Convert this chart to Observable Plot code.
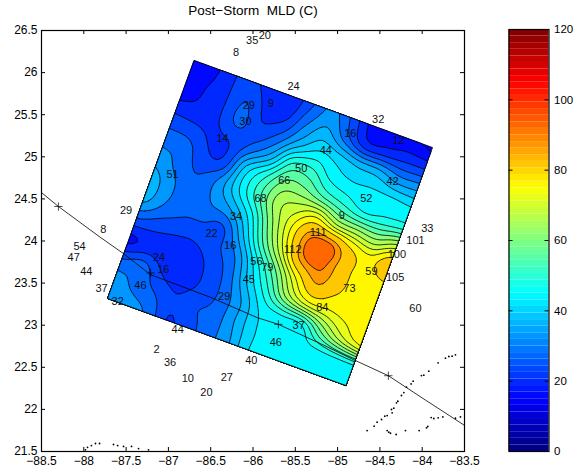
<!DOCTYPE html>
<html><head><meta charset="utf-8">
<script src="https://cdn.jsdelivr.net/npm/d3@7"></script>
<script src="https://cdn.jsdelivr.net/npm/@observablehq/plot@0.6"></script>
<style>html,body{margin:0;padding:0;background:#fff}#wrap{position:relative;width:582px;height:476px}#wrap svg{position:absolute;top:0}</style>
</head><body><div id="wrap"></div>
<script>
const r0 = [16.5,18.5,23.5,25,21.5,21,27.5,33,27,18.5,17.5,17,15];
const r1 = [17,20,23.5,28,23,23,31.5,37,30,22,22,23,23];
const r2 = [20,21,23.7,29,25,29,38,44,42,39,38,34,34];
const r3 = [26,25,23.5,24.5,30,38,52,53,47,45,45,45,44];
const r4 = [30.5,30,24.7,25.5,41,51,61,61,56,52,48,49,50];
const r5 = [34.5,31,28,32.5,43,54,66,71,76,68,66,64,70];
const r6 = [38,33,28.7,32,36,46,62,76,91.5,93,83,78,87];
const r7 = [37,31.5,28.5,28.2,27.5,39.5,56,72,91,93,84,78,79];
const r8 = [27.5,25.5,24.3,24.3,27,32.5,46,60,76,87.5,82,78,77];
const r9 = [19,21.5,21.5,21.5,25,30,41,52,66,74,75,77,77];
const r10 = [28,30,24,22.5,24.8,29,36,45,47,48,60,70,76];
const r11 = [34,31,28,24.5,27.5,29.5,36,43.5,46,46,46.5,47,47.5];
const r12 = [34.5,34,31,23.8,26.5,30.2,35,43.5,46.5,46.5,46,46,46];
const rows = [r0,r1,r2,r3,r4,r5,r6,r7,r8,r9,r10,r11,r12];
const levels = [12,16,20,24,28,32,36,40,44,48,52,56,60,64,68,72,76,81,88,92];
const corner = [-86.697,26.144], cornerU = [-83.878,25.11], cornerV = [-87.72,23.317];

const trackLon = [-88.5,-88.30,-87.80,-87.53,-87.21,-86.50,-85.95,-85.70,-85.20,-84.81,-84.40,-83.96,-83.5];
const trackLat = [24.575,24.41,24.04,23.85,23.60,23.33,23.09,23.01,22.78,22.59,22.40,22.11,21.81];
const plusLon = [-88.30,-87.21,-85.70,-84.40];
const plusLat = [24.41,23.62,23.01,22.40];

const coastLon = [-83.607,-83.646,-83.685,-83.725,-83.812,-83.922,-83.981,-84.009,-84.107,-84.131,-84.186,-84.217,-84.245,-84.288,-84.304,-84.336,-84.363,-84.355,-84.414,-84.442,-84.481,-84.533,-84.568,-84.651,-84.414,-84.395,-84.375,-84.308,-84.198,-84.036,-83.949,-83.934,-83.894,-83.863,-83.811,-83.756,-83.607,-83.548,-87.98,-87.956,-87.91,-87.862,-87.814,-87.649,-87.60,-87.53,-87.436,-87.353,-87.235];
const coastLat = [22.648,22.632,22.628,22.608,22.553,22.454,22.406,22.402,22.335,22.303,22.264,22.200,22.165,22.097,22.078,22.014,21.999,21.959,21.927,21.919,21.880,21.848,21.801,21.749,21.749,21.729,21.717,21.702,21.749,21.749,21.781,21.797,21.903,21.892,21.900,21.911,21.896,21.911,21.52,21.55,21.57,21.595,21.595,21.583,21.57,21.56,21.56,21.535,21.52];

const stationText = ["35","20","8","24","9","29","30","14","32","16","12","44","50","51","66","42","52","68","9","34","29","8","33","101","111","112","22","16","54","47","44","100","59","105","24","16","56","79","45","37","46","32","29","73","84","60","37","44","46","2","36","40","10","27","20"];
const stationLon = [-86.01,-85.86,-86.20,-85.52,-85.79,-86.05,-86.09,-86.36,-84.52,-84.85,-84.28,-85.14,-85.43,-86.95,-85.63,-84.35,-84.66,-85.91,-84.95,-86.20,-87.50,-87.77,-83.94,-84.08,-85.23,-85.53,-86.49,-86.27,-88.05,-88.12,-87.97,-84.30,-84.60,-84.32,-87.11,-87.06,-85.96,-85.83,-86.05,-87.79,-87.33,-87.60,-86.34,-84.86,-85.18,-84.08,-85.46,-86.89,-85.73,-87.14,-86.98,-86.02,-86.77,-86.31,-86.55];
const stationLat = [26.38,26.44,26.24,25.83,25.63,25.61,25.42,25.22,25.44,25.28,25.19,25.07,24.86,24.79,24.72,24.71,24.50,24.50,24.30,24.29,24.36,24.14,24.15,24.01,24.10,23.90,24.09,23.95,23.93,23.80,23.64,23.84,23.64,23.57,23.81,23.66,23.76,23.69,23.54,23.44,23.47,23.28,23.34,23.44,23.21,23.20,23.00,22.95,22.80,22.71,22.56,22.58,22.37,22.38,22.20];

const xTicks = [-88.5,-88,-87.5,-87,-86.5,-86,-85.5,-85,-84.5,-84,-83.5];
const yTicks = [21.5,22,22.5,23,23.5,24,24.5,25,25.5,26,26.5];
const barTicks = [0,20,40,60,80,100,120];
const font = "Liberation Sans, Arial, sans-serif";

// MATLAB jet with 64 steps
const clamp01 = v => Math.max(0, Math.min(1, v));
const jet = d3.range(64).map(i => {
  const x = (i + .5) / 64;
  const r = clamp01(Math.min(4*x-1.5, -4*x+4.5)), g = clamp01(Math.min(4*x-.5, -4*x+3.5)), b = clamp01(Math.min(4*x+.5, -4*x+2.5));
  return d3.rgb(r*255, g*255, b*255).formatHex();
});
const colorScale = {type:"threshold", domain:d3.range(1,64).map(i => i*120/64), range:jet};

// contour the read grid on a finer mesh (Catmull-Rom), mapped to the rotated survey box
const n = rows.length, k = 6, m = (n-1)*k+1;
const cr = (a,b,c,d,t) => b + .5*t*(c-a + t*(2*a-5*b+4*c-d + t*(3*(b-c)+d-a)));
const at = (i,j) => rows[Math.max(0,Math.min(n-1,j))][Math.max(0,Math.min(n-1,i))];
const mesh = new Float64Array(m*m);
for (let y=0;y<m;y++) for (let x=0;x<m;x++) {
  const fx=x/k, fy=y/k, ix=Math.min(n-2,Math.floor(fx)), iy=Math.min(n-2,Math.floor(fy)), tx=fx-ix, ty=fy-iy;
  const col = [-1,0,1,2].map(d => cr(at(ix-1,iy+d),at(ix,iy+d),at(ix+1,iy+d),at(ix+2,iy+d),tx));
  mesh[y*m+x] = Math.max(levels[0], cr(col[0],col[1],col[2],col[3],ty));
}
const toGeo = ([px,py]) => {
  const u = Math.max(0,Math.min(m-1,px-.5))/(m-1), v = Math.max(0,Math.min(m-1,py-.5))/(m-1);
  return {lon: corner[0]+u*(cornerU[0]-corner[0])+v*(cornerV[0]-corner[0]),
          lat: corner[1]+u*(cornerU[1]-corner[1])+v*(cornerV[1]-corner[1])};
};
const contourPts = [];
for (const c of d3.contours().size([m,m]).thresholds(levels)(mesh)) {
  for (const poly of c.coordinates) for (const ring of poly) {
    for (const p of ring) contourPts.push({...toGeo(p), level:c.value});
    contourPts.push({lon:NaN, lat:NaN, level:c.value});
  }
}

const ml=41, mr=118, mt=30, mb=25, W=582, H=476, fw=W-ml-mr, fh=H-mt-mb, tl=4;
const main = Plot.plot({
  width:W, height:H, marginLeft:ml, marginRight:mr, marginTop:mt, marginBottom:mb,
  style:{fontFamily:font, fontSize:"12px", background:"transparent", color:"#000", overflow:"visible"},
  x:{domain:[-88.5,-83.5], label:null, ticks:xTicks},
  y:{domain:[21.5,26.5], label:null, ticks:yTicks},
  color:colorScale,
  marks:[
    Plot.line(contourPts,{x:"lon",y:"lat",z:"level",fill:"level",stroke:"#000",strokeWidth:.8,curve:"linear"}),
    Plot.line(trackLon.map((d,i)=>({lon:d,lat:trackLat[i]})),{x:"lon",y:"lat",stroke:"#000",strokeWidth:.8}),
    Plot.dot(plusLon.map((d,i)=>({lon:d,lat:plusLat[i]})),{x:"lon",y:"lat",symbol:"plus",r:2.8,stroke:"#000",strokeWidth:.7}),
    Plot.dot(coastLon.map((d,i)=>({lon:d,lat:coastLat[i]})),{x:"lon",y:"lat",r:.9,fill:"#000"}),
    Plot.text(stationText,{x:(d,i)=>stationLon[i],y:(d,i)=>stationLat[i],text:d=>d,fontSize:11,fill:"#111"}),
    Plot.tickX(xTicks,{x:d=>d,insetTop:fh-tl,stroke:"#000"}),
    Plot.tickX(xTicks,{x:d=>d,insetBottom:fh-tl,stroke:"#000"}),
    Plot.tickY(yTicks,{y:d=>d,insetRight:fw-tl,stroke:"#000"}),
    Plot.tickY(yTicks,{y:d=>d,insetLeft:fw-tl,stroke:"#000"}),
    Plot.axisX({ticks:xTicks,tickSize:0,tickPadding:5,tickFormat:d=>String(d).replace("-","\u2212"),fontSize:12}),
    Plot.axisY({ticks:yTicks,tickSize:0,tickPadding:4,tickFormat:d=>String(d),fontSize:12}),
    Plot.frame({stroke:"#000",strokeWidth:1.2}),
    Plot.text(["Post\u2212Storm\u00a0\u00a0MLD (C)"],{frameAnchor:"top",dy:-25,fontSize:13.5,fill:"#000"})
  ]
});
main.style.left="0";

const bands = d3.range(64).map(i=>({y1:i*120/64,y2:(i+1)*120/64,mid:(i+.5)*120/64}));
const bar = Plot.plot({
  width:74, height:H, marginLeft:0.5, marginRight:33.5, marginTop:mt-1, marginBottom:mb,
  style:{fontFamily:font, fontSize:"11.5px", background:"transparent", color:"#000", overflow:"visible"},
  x:{domain:[0,1],axis:null},
  y:{domain:[0,120],label:null,ticks:barTicks},
  color:colorScale,
  marks:[
    Plot.rectY(bands,{x1:0,x2:1,y1:"y1",y2:"y2",fill:"mid"}),
    Plot.tickY(barTicks.slice(1,-1),{y:d=>d,insetRight:36,stroke:"#000"}),
    Plot.tickY(barTicks.slice(1,-1),{y:d=>d,insetLeft:36,stroke:"#000"}),
    Plot.axisY({anchor:"right",ticks:barTicks,tickSize:0,tickPadding:5,tickFormat:d=>String(d),fontSize:11.5}),
    Plot.frame({stroke:"#000",strokeWidth:1.2})
  ]
});
bar.style.left="508px";
const wrap=document.getElementById("wrap");
wrap.appendChild(main); wrap.appendChild(bar);
</script></body></html>
